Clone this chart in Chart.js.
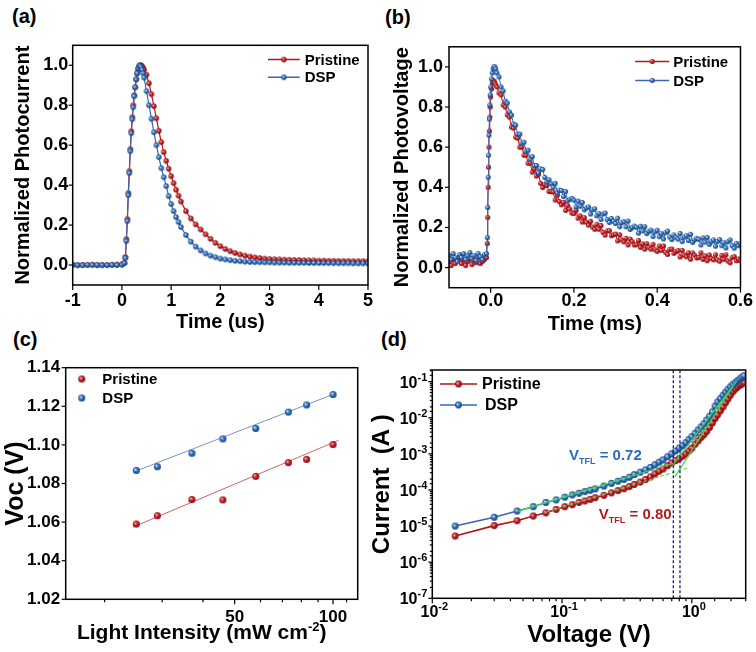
<!DOCTYPE html>
<html>
<head>
<meta charset="utf-8">
<script src="https://cdn.jsdelivr.net/npm/chart.js@4.4.0/dist/chart.umd.min.js"></script>
<style>
  body { margin: 0; background: #fff; width: 756px; height: 652px; position: relative; overflow: hidden; }
  canvas { position: absolute; }
  .tag { position: absolute; font: bold 20px "Liberation Sans", Arial, sans-serif; line-height: 20px; color: #000; }
</style>
</head>
<body>
<div class="tag" style="left:12px;top:6px">(a)</div>
<div class="tag" style="left:385px;top:7px">(b)</div>
<div class="tag" style="left:13px;top:329px">(c)</div>
<div class="tag" style="left:381px;top:329px">(d)</div>
<canvas id="ca" width="378" height="310" style="left:0;top:30px"></canvas>
<canvas id="cb" width="378" height="310" style="left:378px;top:30px"></canvas>
<canvas id="cc" width="378" height="312" style="left:0;top:340px"></canvas>
<canvas id="cd" width="396" height="312" style="left:360px;top:340px"></canvas>
<script>
// (a) transient photocurrent, time in us
var tA = [-1.0,-0.9,-0.8,-0.7,-0.6,-0.5,-0.4,-0.3,-0.2,-0.1,0.0,
  0.05,0.07,0.09,0.11,0.13,0.15,0.17,0.19,0.21,0.23,0.25,0.27,0.29,0.31,0.33,0.35,0.37,0.39,0.41,0.43,0.45,
  0.5,0.55,0.6,0.65,0.7,0.75,0.8,0.85,0.9,0.95,1.0,1.05,1.1,1.15,1.2,
  1.3,1.4,1.5,1.6,1.7,1.8,1.9,2.0,2.1,2.2,2.3,2.4,2.5,2.6,2.7,2.8,2.9,3.0,
  3.1,3.2,3.3,3.4,3.5,3.6,3.7,3.8,3.9,4.0,4.1,4.2,4.3,4.4,4.5,4.6,4.7,4.8,4.9,5.0];
var pcPristine = [0.002,-0.001,0.001,0.0,0.002,-0.001,0.001,0.0,0.001,0.002,0.003,
  0.01,0.04,0.13,0.23,0.36,0.47,0.58,0.67,0.74,0.8,0.85,0.89,0.93,0.96,0.98,0.993,1.0,1.0,0.995,0.987,0.978,
  0.953,0.91,0.855,0.795,0.735,0.672,0.615,0.565,0.522,0.482,0.445,0.41,0.377,0.347,0.318,
  0.27,0.233,0.203,0.178,0.154,0.131,0.111,0.094,0.08,0.069,0.06,0.053,0.047,0.042,0.038,0.035,0.032,0.03,
  0.029,0.028,0.027,0.026,0.025,0.025,0.024,0.023,0.023,0.022,0.022,0.021,0.021,0.02,0.02,0.02,0.019,0.019,0.019,0.019];
var pcDSP = [0.001,0.0,-0.001,0.001,0.0,0.001,-0.001,0.0,0.001,0.0,0.002,
  0.01,0.035,0.12,0.22,0.35,0.46,0.57,0.66,0.73,0.79,0.845,0.89,0.93,0.96,0.985,0.998,0.997,0.99,0.977,0.96,0.938,
  0.87,0.8,0.732,0.665,0.6,0.54,0.485,0.44,0.395,0.345,0.305,0.27,0.24,0.215,0.19,
  0.15,0.117,0.092,0.073,0.058,0.047,0.039,0.032,0.028,0.024,0.021,0.019,0.017,0.015,0.014,0.014,0.013,0.013,
  0.012,0.012,0.012,0.011,0.011,0.011,0.011,0.01,0.01,0.01,0.01,0.01,0.009,0.009,0.009,0.009,0.008,0.008,0.008,0.008];
var xTicksA = [-1, 0, 1, 2, 3, 4, 5];
var yTicksAB = [0.0, 0.2, 0.4, 0.6, 0.8, 1.0];

// (b) transient photovoltage, time in ms
var tB = [-0.1,-0.095,-0.09,-0.085,-0.08,-0.075,-0.07,-0.065,-0.06,-0.055,-0.05,-0.045,-0.04,-0.035,-0.03,-0.025,-0.02,-0.015,-0.01,
  -0.008,-0.007,-0.006,-0.005,-0.004,-0.003,-0.002,-0.001,0,0.002,0.004,0.006,0.008,0.01,0.012,0.015,
  0.02,0.025,0.03,0.035,0.04,0.045,0.05,0.055,0.06,0.065,0.07,0.075,0.08,0.085,0.09,0.095,
  0.1,0.105,0.11,0.115,0.12,0.125,0.13,0.135,0.14,0.145,
  0.15,0.155,0.16,0.165,0.17,0.175,0.18,0.185,0.19,0.195,
  0.2,0.205,0.21,0.215,0.22,0.225,0.23,0.235,0.24,0.245,
  0.25,0.255,0.26,0.265,0.27,0.275,0.28,0.285,0.29,0.295,
  0.3,0.305,0.31,0.315,0.32,0.325,0.33,0.335,0.34,0.345,
  0.35,0.355,0.36,0.365,0.37,0.375,0.38,0.385,0.39,0.395,
  0.4,0.405,0.41,0.415,0.42,0.425,0.43,0.435,0.44,0.445,
  0.45,0.455,0.46,0.465,0.47,0.475,0.48,0.485,0.49,0.495,
  0.5,0.505,0.51,0.515,0.52,0.525,0.53,0.535,0.54,0.545,
  0.55,0.555,0.56,0.565,0.57,0.575,0.58,0.585,0.59,0.595,
  0.6];
var pvPristine = [0.03,0.01,0.04,0.02,0.035,0.05,0.02,0.04,0.01,0.03,0.045,0.015,0.035,0.025,0.05,0.02,0.03,0.04,0.05,
  0.12,0.25,0.4,0.5,0.6,0.68,0.75,0.8,0.85,0.89,0.92,0.93,0.93,0.92,0.91,0.9,
  0.87,0.86,0.81,0.8,0.76,0.75,0.7,0.695,0.65,0.645,0.6,0.6,0.56,0.56,0.52,0.52,
  0.476,0.491,0.456,0.465,0.42,0.399,0.413,0.409,0.379,0.379,
  0.377,0.337,0.361,0.329,0.313,0.325,0.285,0.309,0.292,0.272,
  0.269,0.285,0.246,0.258,0.227,0.249,0.226,0.212,0.231,0.202,
  0.191,0.216,0.191,0.21,0.175,0.162,0.183,0.184,0.159,0.164,
  0.167,0.133,0.164,0.138,0.128,0.146,0.113,0.142,0.129,0.113,
  0.114,0.135,0.101,0.118,0.092,0.119,0.101,0.092,0.116,0.089,
  0.081,0.108,0.086,0.108,0.076,0.066,0.09,0.093,0.071,0.079,
  0.085,0.053,0.086,0.062,0.054,0.074,0.042,0.073,0.062,0.048,
  0.051,0.074,0.041,0.059,0.034,0.063,0.046,0.039,0.064,0.039,
  0.032,0.061,0.041,0.064,0.033,0.024,0.05,0.055,0.034,0.043,
  0.034];
var pvDSP = [0.06,0.04,0.07,0.05,0.03,0.065,0.05,0.07,0.04,0.06,0.075,0.045,0.06,0.035,0.07,0.055,0.04,0.065,0.07,
  0.15,0.3,0.45,0.56,0.66,0.74,0.81,0.86,0.9,0.94,0.97,0.99,1.0,1.0,0.99,0.97,
  0.95,0.9,0.88,0.83,0.82,0.775,0.76,0.715,0.71,0.665,0.665,0.62,0.625,0.58,0.585,0.54,
  0.553,0.508,0.509,0.472,0.492,0.489,0.449,0.426,0.438,0.418,
  0.4,0.42,0.372,0.386,0.384,0.354,0.379,0.333,0.34,0.345,
  0.336,0.302,0.331,0.306,0.325,0.288,0.297,0.302,0.267,0.288,
  0.293,0.258,0.269,0.24,0.267,0.272,0.239,0.225,0.245,0.231,
  0.22,0.246,0.204,0.224,0.229,0.203,0.232,0.19,0.2,0.207,
  0.201,0.172,0.206,0.183,0.204,0.169,0.18,0.187,0.155,0.178,
  0.186,0.154,0.169,0.143,0.174,0.182,0.152,0.14,0.163,0.151,
  0.142,0.17,0.13,0.152,0.159,0.135,0.166,0.126,0.138,0.146,
  0.141,0.113,0.148,0.127,0.15,0.116,0.129,0.138,0.107,0.131,
  0.14,0.109,0.124,0.098,0.129,0.138,0.109,0.097,0.12,0.109,
  0.12];
var xTicksB = [0.0, 0.2, 0.4, 0.6];

// (c) Voc vs light intensity
var intensity = [25, 29, 37, 46, 58, 73, 83, 100];
var vocPristine = [1.059, 1.0633, 1.0717, 1.0715, 1.0837, 1.0908, 1.0925, 1.1002];
var vocDSP = [1.0868, 1.0887, 1.0957, 1.1031, 1.1085, 1.117, 1.1207, 1.1261];
var fitPristineX = [24.4, 104], fitPristineY = [1.0574, 1.1024];
var fitDSPX = [24.9, 100.5], fitDSPY = [1.0864, 1.1263];
var xTicksC = [20, 30, 40, 50, 60, 70, 80, 90, 100, 110];
var xLabelsC = [50, 100];
var yTicksC = [1.02, 1.04, 1.06, 1.08, 1.10, 1.12, 1.14];

// (d) dark I-V, SCLC
var voltage = [0.015,0.03,0.045,0.06,0.075,0.09,0.105,0.12,0.135,0.15,
  0.165,0.18,0.21,0.24,0.27,0.3,0.33,0.36,0.4,0.44,
  0.48,0.52,0.56,0.6,0.65,0.7,0.75,0.8,0.85,0.9,
  0.95,1.0,1.06,1.12,1.18,1.24,1.3,1.37,1.44,1.51,
  1.58,1.66,1.74,1.82,1.9,1.98,2.07,2.16,2.25,2.34,
  2.43,2.52];
var currentPristine = [5.3e-6,1.03e-5,1.41e-5,1.9e-5,2.33e-5,2.9e-5,3.44e-5,3.9e-5,4.5e-5,4.95e-5,
  5.5e-5,6.1e-5,7.1e-5,8.3e-5,9.6e-5,1.08e-4,1.24e-4,1.42e-4,1.65e-4,1.95e-4,
  2.3e-4,2.8e-4,3.3e-4,3.8e-4,4.7e-4,5.6e-4,6.5e-4,7.4e-4,8.6e-4,1.0e-3,
  1.2e-3,1.43e-3,1.85e-3,2.3e-3,2.85e-3,3.4e-3,4.2e-3,5.4e-3,7.2e-3,9.5e-3,
  1.2e-2,1.55e-2,2.0e-2,2.6e-2,3.3e-2,4.2e-2,5.2e-2,6.2e-2,7.1e-2,7.9e-2,
  8.6e-2,9.3e-2];
var currentDSP = [1.0e-5,1.75e-5,2.6e-5,3.45e-5,4.5e-5,5.3e-5,6.3e-5,7.3e-5,8.1e-5,9.0e-5,
  9.8e-5,1.07e-4,1.28e-4,1.52e-4,1.75e-4,1.95e-4,2.25e-4,2.65e-4,3.1e-4,3.6e-4,
  4.2e-4,5.0e-4,5.9e-4,6.8e-4,8.3e-4,1.0e-3,1.2e-3,1.45e-3,1.7e-3,2.05e-3,
  2.5e-3,3.0e-3,3.7e-3,4.6e-3,5.6e-3,6.8e-3,8.6e-3,1.1e-2,1.45e-2,2.1e-2,
  2.75e-2,3.4e-2,4.2e-2,5.1e-2,6.1e-2,7.2e-2,8.3e-2,9.4e-2,0.106,0.118,
  0.132,0.146];
var fitOhmicDSPX = [0.046, 0.72], fitOhmicDSPY = [2.6e-5, 5.5e-4];
var fitOhmicPristineX = [0.075, 0.95], fitOhmicPristineY = [2.4e-5, 4.2e-4];
var fitTflDSPX = [0.70, 2.2], fitTflDSPY = [4.5e-4, 0.1];
var fitTflPristineX = [0.74, 2.1], fitTflPristineY = [2.3e-4, 0.08];
var vTfl = [0.72, 0.81];
var expTicksY = [-7, -6, -5, -4, -3, -2, -1];
var expTicksX = [-2, -1, 0];

var FONT = '"Liberation Sans", Arial, sans-serif';
Chart.defaults.font.family = FONT;
Chart.defaults.color = '#000';

var RED = { light: '#f6b8b8', base: '#c4161c', dark: '#780a0e' };
var BLUE = { light: '#d2e6f8', base: '#2a6cbc', dark: '#123f7a' };
var RED_LINE = '#b8141c', BLUE_LINE = '#3c64b4';

function ball(col, r) {
  var s = Math.ceil(r * 2) + 2;
  var c = document.createElement('canvas');
  c.width = s; c.height = s;
  var g = c.getContext('2d');
  var m = s / 2;
  var gr = g.createRadialGradient(m - r * 0.35, m - r * 0.35, r * 0.05, m, m, r);
  gr.addColorStop(0, col.light);
  gr.addColorStop(0.55, col.base);
  gr.addColorStop(1, col.dark);
  g.fillStyle = gr;
  g.beginPath(); g.arc(m, m, r, 0, Math.PI * 2); g.fill();
  return c;
}

function pts(xs, ys) {
  return xs.map(function (x, i) { return { x: x, y: ys[i] }; });
}

function fixTicks(list) {
  return function (s) { s.ticks = list.map(function (v) { return { value: v }; }); };
}

function isDecade(v) {
  var l = Math.log10(v);
  return Math.abs(l - Math.round(l)) < 1e-6;
}

// text with super/subscript parts, y is the baseline
function richText(ctx, x, y, parts, align) {
  var w = 0;
  parts.forEach(function (p) { ctx.font = p.font; p.w = ctx.measureText(p.t).width; w += p.w; });
  var cx = align === 'right' ? x - w : (align === 'center' ? x - w / 2 : x);
  ctx.textAlign = 'left';
  ctx.textBaseline = 'alphabetic';
  parts.forEach(function (p) { ctx.font = p.font; ctx.fillText(p.t, cx, y + (p.dy || 0)); cx += p.w; });
}

function legendRow(ctx, x1, x2, y, lineCol, img, label, tx, font) {
  if (lineCol) {
    ctx.strokeStyle = lineCol; ctx.lineWidth = 1.5;
    ctx.beginPath(); ctx.moveTo(x1, y); ctx.lineTo(x2, y); ctx.stroke();
  }
  ctx.drawImage(img, (x1 + x2) / 2 - img.width / 2, y - img.height / 2);
  ctx.fillStyle = '#000'; ctx.font = font;
  ctx.textAlign = 'left'; ctx.textBaseline = 'middle';
  ctx.fillText(label, tx, y + 1);
}

function xTitle(ctx, a, text, size, dy) {
  ctx.fillStyle = '#000';
  ctx.font = 'bold ' + size + 'px ' + FONT;
  ctx.textAlign = 'center'; ctx.textBaseline = 'middle';
  ctx.fillText(text, (a.left + a.right) / 2, a.bottom + dy);
}

// box around plot, outward tick marks, plus panel extras
function frame(opts) {
  return {
    id: 'frame',
    afterDatasetsDraw: function (chart) {
      var ctx = chart.ctx, a = chart.chartArea, sx = chart.scales.x, sy = chart.scales.y;
      ctx.save();
      ctx.strokeStyle = '#000';
      ctx.lineWidth = 1.2;
      sx.ticks.forEach(function (t) {
        var p = sx.getPixelForValue(t.value);
        var L = opts.majorX(t.value) ? 5 : 3;
        ctx.beginPath(); ctx.moveTo(p, a.bottom); ctx.lineTo(p, a.bottom + L); ctx.stroke();
      });
      sy.ticks.forEach(function (t) {
        var p = sy.getPixelForValue(t.value);
        var L = opts.majorY(t.value) ? 4 : 2.5;
        ctx.beginPath(); ctx.moveTo(a.left, p); ctx.lineTo(a.left - L, p); ctx.stroke();
      });
      ctx.lineWidth = 1.5;
      ctx.strokeRect(a.left, a.top, a.right - a.left, a.bottom - a.top);
      if (opts.draw) opts.draw(chart, ctx, a, sx, sy);
      ctx.restore();
    }
  };
}

function all() { return true; }

function baseOpts(pad) {
  return {
    responsive: false, animation: false, events: [], devicePixelRatio: 1,
    layout: { padding: pad },
    plugins: { legend: { display: false }, tooltip: { enabled: false } }
  };
}

var NOGRID = { display: false, drawTicks: false, tickLength: 0 };

// ---------- (a)
var ballRedA = ball(RED, 2.7), ballBlueA = ball(BLUE, 2.7);
var optA = baseOpts({ top: 14, right: 9.7, left: 0, bottom: 0 });
optA.scales = {
  x: {
    type: 'linear', min: -1, max: 5,
    afterBuildTicks: fixTicks(xTicksA),
    afterFit: function (s) { s.height = 55; },
    grid: NOGRID, border: { display: false },
    ticks: { font: { size: 18, weight: 'bold' }, padding: 5, autoSkip: false, maxRotation: 0,
      callback: function (v) { return String(v); } },
    title: { display: false }
  },
  y: {
    type: 'linear', min: -0.1, max: 1.1,
    afterBuildTicks: fixTicks(yTicksAB),
    afterFit: function (s) { s.width = 72.7; },
    grid: NOGRID, border: { display: false },
    ticks: { font: { size: 18, weight: 'bold' }, padding: 4.5, autoSkip: false,
      callback: function (v) { return v.toFixed(1); } },
    title: { display: true, text: 'Normalized Photocurrent', font: { size: 20, weight: 'bold' }, padding: { top: 11, bottom: 0 } }
  }
};
new Chart(document.getElementById('ca'), {
  type: 'scatter',
  data: { datasets: [
    { label: 'DSP', data: pts(tA, pcDSP), showLine: true, borderColor: BLUE_LINE, borderWidth: 1.2, pointStyle: ballBlueA, order: 0 },
    { label: 'Pristine', data: pts(tA, pcPristine), showLine: true, borderColor: RED_LINE, borderWidth: 1.2, pointStyle: ballRedA, order: 1 }
  ] },
  options: optA,
  plugins: [frame({ majorX: all, majorY: all, draw: function (chart, ctx, a) {
    var f = 'bold 15px ' + FONT;
    legendRow(ctx, a.right - 100, a.right - 68.3, a.top + 14.3, RED_LINE, ballRedA, 'Pristine', a.right - 63.3, f);
    legendRow(ctx, a.right - 100, a.right - 68.3, a.top + 32, BLUE_LINE, ballBlueA, 'DSP', a.right - 63.3, f);
    xTitle(ctx, a, 'Time (us)', 20, 37);
  } })]
});

// ---------- (b)
var ballRedB = ball(RED, 2.5), ballBlueB = ball(BLUE, 2.5);
var optB = baseOpts({ top: 12.3, right: 13.7, left: 0, bottom: 0 });
optB.scales = {
  x: {
    type: 'linear', min: -0.1, max: 0.6,
    afterBuildTicks: fixTicks(xTicksB),
    afterFit: function (s) { s.height = 52.3; },
    grid: NOGRID, border: { display: false },
    ticks: { font: { size: 18, weight: 'bold' }, padding: 3, autoSkip: false, maxRotation: 0,
      callback: function (v) { return v.toFixed(1); } },
    title: { display: false }
  },
  y: {
    type: 'linear', min: -0.1, max: 1.1,
    afterBuildTicks: fixTicks(yTicksAB),
    afterFit: function (s) { s.width = 71; },
    grid: NOGRID, border: { display: false },
    ticks: { font: { size: 18, weight: 'bold' }, padding: 6, autoSkip: false,
      callback: function (v) { return v.toFixed(1); } },
    title: { display: true, text: 'Normalized Photovoltage', font: { size: 20, weight: 'bold' }, padding: { top: 12, bottom: 0 } }
  }
};
new Chart(document.getElementById('cb'), {
  type: 'scatter',
  data: { datasets: [
    { label: 'DSP', data: pts(tB, pvDSP), showLine: true, borderColor: BLUE_LINE, borderWidth: 1, pointStyle: ballBlueB, order: 0 },
    { label: 'Pristine', data: pts(tB, pvPristine), showLine: true, borderColor: RED_LINE, borderWidth: 1, pointStyle: ballRedB, order: 1 }
  ] },
  options: optB,
  plugins: [frame({ majorX: all, majorY: all, draw: function (chart, ctx, a) {
    var f = 'bold 15px ' + FONT;
    legendRow(ctx, a.right - 105.3, a.right - 71.3, a.top + 14.7, RED_LINE, ballRedB, 'Pristine', a.right - 67.3, f);
    legendRow(ctx, a.right - 105.3, a.right - 71.3, a.top + 33.7, BLUE_LINE, ballBlueB, 'DSP', a.right - 67.3, f);
    xTitle(ctx, a, 'Time (ms)', 20, 36.3);
  } })]
});

// ---------- (c)
var ballRedC = ball(RED, 3.5), ballBlueC = ball(BLUE, 3.5);
var optC = baseOpts({ top: 27.7, right: 20.3, left: 0, bottom: 0 });
optC.scales = {
  x: {
    type: 'logarithmic', min: 15.2, max: 119,
    afterBuildTicks: fixTicks(xTicksC),
    afterFit: function (s) { s.height = 52.7; },
    grid: NOGRID, border: { display: false },
    ticks: { font: { size: 17, weight: 'bold' }, padding: 8, autoSkip: false, maxRotation: 0,
      callback: function (v) { return xLabelsC.indexOf(v) >= 0 ? String(v) : ''; } },
    title: { display: false }
  },
  y: {
    type: 'linear', min: 1.02, max: 1.14,
    afterBuildTicks: fixTicks(yTicksC),
    afterFit: function (s) { s.width = 65.7; },
    grid: NOGRID, border: { display: false },
    ticks: { font: { size: 17, weight: 'bold' }, padding: 5.5, autoSkip: false,
      callback: function (v) { return v.toFixed(2); } },
    title: { display: true, text: 'Voc (V)', font: { size: 25, weight: 'bold' }, padding: { top: 1, bottom: 0 } }
  }
};
new Chart(document.getElementById('cc'), {
  type: 'scatter',
  data: { datasets: [
    { label: 'DSP', data: pts(intensity, vocDSP), pointStyle: ballBlueC, order: 0 },
    { label: 'Pristine', data: pts(intensity, vocPristine), pointStyle: ballRedC, order: 1 },
    { label: 'fit DSP', data: pts(fitDSPX, fitDSPY), showLine: true, pointRadius: 0, borderColor: '#7096cc', borderWidth: 1, order: 2 },
    { label: 'fit Pristine', data: pts(fitPristineX, fitPristineY), showLine: true, pointRadius: 0, borderColor: '#d46464', borderWidth: 1, order: 2 }
  ] },
  options: optC,
  plugins: [frame({
    majorX: function (v) { return xLabelsC.indexOf(v) >= 0; }, majorY: all,
    draw: function (chart, ctx, a) {
      var f = 'bold 15px ' + FONT;
      legendRow(ctx, a.left + 16, a.left + 16, a.top + 11.3, null, ballRedC, 'Pristine', a.left + 36.6, f);
      legendRow(ctx, a.left + 16, a.left + 16, a.top + 30.3, null, ballBlueC, 'DSP', a.left + 36.6, f);
      ctx.fillStyle = '#000';
      var big = 'bold 21px ' + FONT, small = 'bold 13px ' + FONT;
      richText(ctx, (a.left + a.right) / 2 - 10, a.bottom + 40, [
        { t: 'Light Intensity (mW cm', font: big },
        { t: '-2', font: small, dy: -8 },
        { t: ')', font: big }
      ], 'center');
    }
  })]
});

// ---------- (d)
var ballRedD = ball(RED, 3.4), ballBlueD = ball(BLUE, 3.4);
var optD = baseOpts({ top: 30, right: 10.3, left: 0, bottom: 0 });
optD.scales = {
  x: {
    type: 'logarithmic', min: 0.01, max: 2.6,
    afterFit: function (s) { s.height = 53.7; },
    grid: NOGRID, border: { display: false },
    ticks: { display: false },
    title: { display: false }
  },
  y: {
    type: 'logarithmic', min: 1e-7, max: 0.21,
    afterFit: function (s) { s.width = 72.3; },
    grid: NOGRID, border: { display: false },
    ticks: { display: false },
    title: { display: true, text: 'Current  (A )', font: { size: 24, weight: 'bold' }, padding: { top: 7.6, bottom: 0 } }
  }
};
var GREEN = '#3cdc50', VLINE = '#1c1c88';
new Chart(document.getElementById('cd'), {
  type: 'scatter',
  data: { datasets: [
    { label: 'DSP', data: pts(voltage, currentDSP), showLine: true, borderColor: BLUE_LINE, borderWidth: 1.6, pointStyle: ballBlueD, order: 0 },
    { label: 'Pristine', data: pts(voltage, currentPristine), showLine: true, borderColor: RED_LINE, borderWidth: 1.6, pointStyle: ballRedD, order: 1 },
    { data: pts(fitOhmicDSPX, fitOhmicDSPY), showLine: true, pointRadius: 0, borderColor: GREEN, borderWidth: 1.2, order: -1 },
    { data: pts(fitOhmicPristineX, fitOhmicPristineY), showLine: true, pointRadius: 0, borderColor: GREEN, borderWidth: 1, borderDash: [4, 2], order: -1 },
    { data: pts(fitTflDSPX, fitTflDSPY), showLine: true, pointRadius: 0, borderColor: GREEN, borderWidth: 1.2, order: -1 },
    { data: pts(fitTflPristineX, fitTflPristineY), showLine: true, pointRadius: 0, borderColor: GREEN, borderWidth: 1.2, order: -1 },
    { data: pts([vTfl[0], vTfl[0]], [1e-7, 0.21]), showLine: true, pointRadius: 0, borderColor: VLINE, borderWidth: 1.3, borderDash: [3, 2], order: -2 },
    { data: pts([vTfl[1], vTfl[1]], [1e-7, 0.21]), showLine: true, pointRadius: 0, borderColor: VLINE, borderWidth: 1.3, borderDash: [3, 2], order: -2 }
  ] },
  options: optD,
  plugins: [frame({
    majorX: isDecade, majorY: isDecade,
    draw: function (chart, ctx, a, sx, sy) {
      var big = 'bold 16px ' + FONT, sup = 'bold 11px ' + FONT;
      ctx.fillStyle = '#000';
      expTicksY.forEach(function (e) {
        var y = sy.getPixelForValue(Math.pow(10, e));
        richText(ctx, a.left - 5, y + 6, [{ t: '10', font: big }, { t: String(e), font: sup, dy: -7 }], 'right');
      });
      expTicksX.forEach(function (e) {
        var x = sx.getPixelForValue(Math.pow(10, e));
        richText(ctx, x + 2, a.bottom + 19, [{ t: '10', font: big }, { t: String(e), font: sup, dy: -7 }], 'center');
      });
      var f = 'bold 16px ' + FONT;
      legendRow(ctx, a.left + 7.7, a.left + 44.7, a.top + 14, RED_LINE, ballRedD, 'Pristine', a.left + 49.7, f);
      legendRow(ctx, a.left + 7.7, a.left + 44.7, a.top + 35, BLUE_LINE, ballBlueD, 'DSP', a.left + 52.7, f);
      var m = 'bold 15px ' + FONT, s = 'bold 9px ' + FONT;
      ctx.fillStyle = '#2a6ebb';
      richText(ctx, sx.getPixelForValue(0.113), sy.getPixelForValue(6.6e-4), [
        { t: 'V', font: m }, { t: 'TFL', font: s, dy: 4 }, { t: ' = 0.72', font: m }], 'left');
      ctx.fillStyle = '#b01c1c';
      richText(ctx, sx.getPixelForValue(0.192), sy.getPixelForValue(1.6e-5), [
        { t: 'V', font: m }, { t: 'TFL', font: s, dy: 4 }, { t: ' = 0.80', font: m }], 'left');
      xTitle(ctx, a, 'Voltage (V)', 24, 36.7);
    }
  })]
});
</script>
</body>
</html>
